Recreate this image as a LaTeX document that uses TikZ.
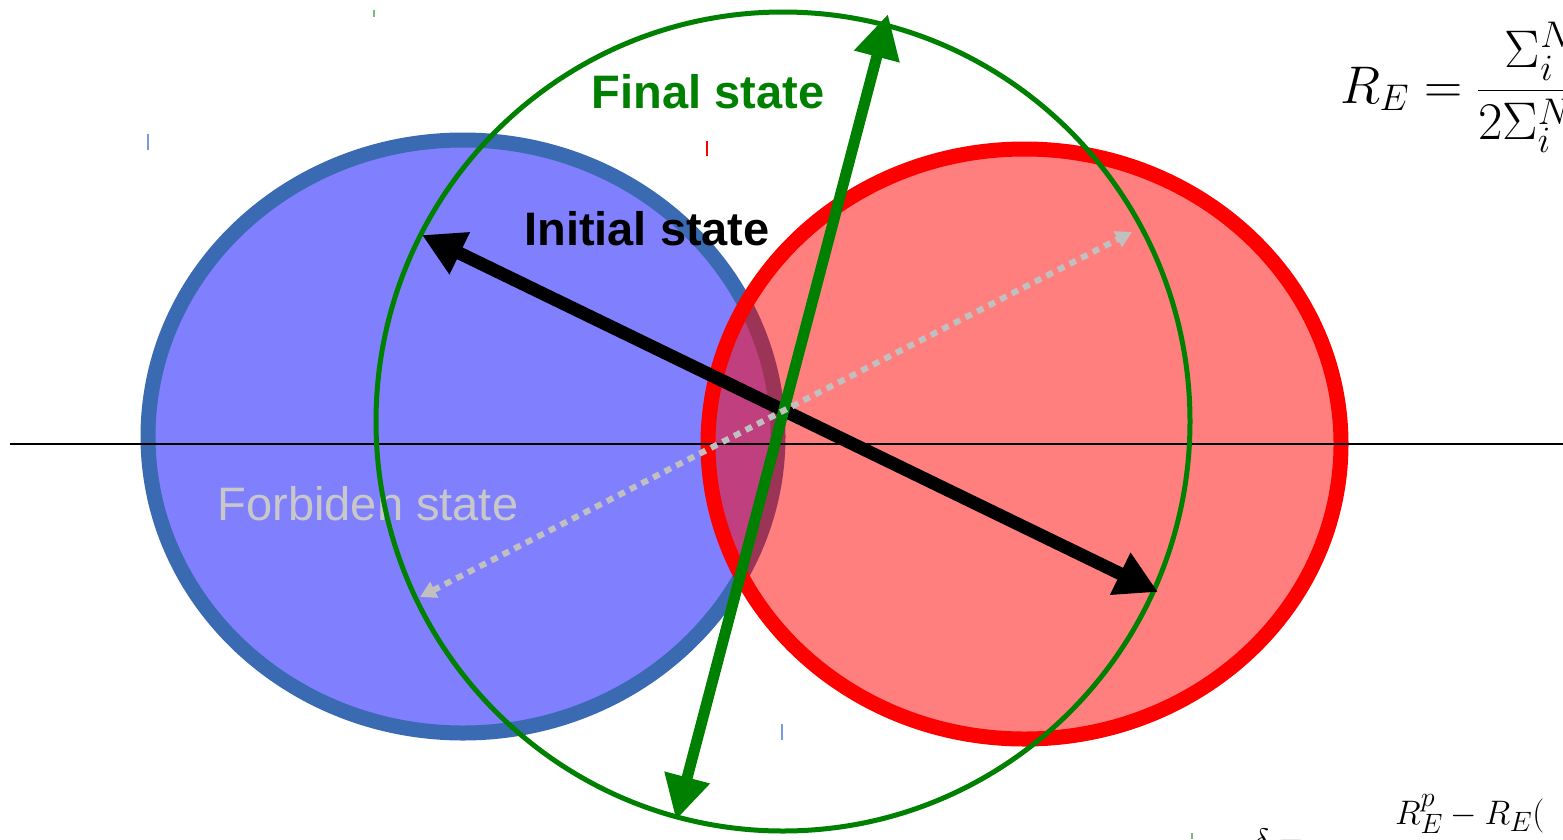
\documentclass[tikz,border=0pt]{standalone}
\usepackage{fix-cm}
\usepackage{fontspec}
\newfontfamily\labfont{Liberation Sans}
\usetikzlibrary{arrows.meta}
\DeclareMathSizes{34}{34}{28}{22}
\definecolor{ellblue}{RGB}{58,106,178}
\definecolor{fillblue}{RGB}{128,128,255}
\definecolor{dgreen}{RGB}{0,128,0}
\definecolor{fgray}{RGB}{192,192,192}
\definecolor{ltext}{RGB}{200,200,200}
\definecolor{tickgreen}{RGB}{120,190,120}
\definecolor{tickblue}{RGB}{120,155,220}
\tikzset{
  bigtip/.style={{Triangle[length=42pt,width=44pt]}-{Triangle[length=42pt,width=44pt]}},
  greentip/.style={{Triangle[length=44pt,width=44pt]}-{Triangle[length=44pt,width=44pt]}},
  smalltip/.style={{Triangle[length=16pt,width=17pt]}-{Triangle[length=16pt,width=17pt]}},
  lab/.style={font=\labfont\bfseries\fontsize{47}{56}\selectfont, anchor=base, inner sep=0pt},
  tickmark/.style={line width=2pt},
}
\begin{document}
\begin{tikzpicture}[x=1pt,y=-1pt]
\useasboundingbox (0,0) rectangle (1563,839);
\clip (0,0) rectangle (1563,839);
\fill[white] (0,0) rectangle (1563,839);
% centres
\coordinate (cb) at (463,436.5);
\coordinate (cr) at (1024.5,444);
\coordinate (cg) at (783,421.5);
% ellipses
\draw[ellblue, line width=15pt, fill=fillblue] (cb) ellipse [x radius=315, y radius=296.5];
\draw[red, line width=15pt, fill=red, fill opacity=0.5, draw opacity=1] (cr) ellipse [x radius=316.5, y radius=295];
% axis
\coordinate (hl) at (10,444);
\coordinate (hr) at (1563,444);
\draw[line width=2pt] (hl) -- (hr);
% forbidden label
\node[font=\labfont\fontsize{47}{56}\selectfont, text=ltext, anchor=base, inner sep=0pt] (forb) at (368,520) {Forbiden state};
% green circle
\draw[dgreen, line width=5pt] (cg) ellipse [x radius=407, y radius=409.5];
% arrows
\coordinate (b1) at (422,235);
\coordinate (b2) at (1158,592);
\draw[line width=13pt, bigtip] (b1) -- (b2);
\coordinate (g1) at (676,820);
\coordinate (g2) at (888,14);
\draw[dgreen, line width=11pt, greentip] (g1) -- (g2);
\coordinate (d1) at (420,597);
\coordinate (d2) at (1132,232);
\draw[fgray, line width=6pt, dash pattern=on 7pt off 6pt, smalltip] (d1) -- (d2);
% labels
\node[lab, text=dgreen] (fin) at (708,108) {Final state};
\node[lab, text=black] (ini) at (647,245) {Initial state};
% formulas
\node[anchor=base west, inner sep=0pt, font=\fontsize{53}{63}\selectfont] (f1) at (1340,103)
  {$\displaystyle R_E = \frac{\Sigma_i^N\hphantom{xxx}}{2\Sigma_i^N\hphantom{xxxx}}$};
\node[anchor=base west, inner sep=0pt, font=\fontsize{34}{40}\selectfont] (f2) at (1395,824)
  {$R_E^p - R_E($};
\node[anchor=base west, inner sep=0pt, font=\fontsize{34}{40}\selectfont] (f3) at (1253,852)
  {$\delta =$};
% small ticks
\draw[tickmark, tickgreen] (374,10) -- (374,17);
\draw[tickmark, tickblue] (148,134) -- (148,150);
\draw[tickmark, red] (707,141) -- (707,156);
\draw[tickmark, tickblue] (782,724) -- (782,740);
\draw[tickmark, tickgreen] (1192,833) -- (1192,839);
\end{tikzpicture}
\end{document}
